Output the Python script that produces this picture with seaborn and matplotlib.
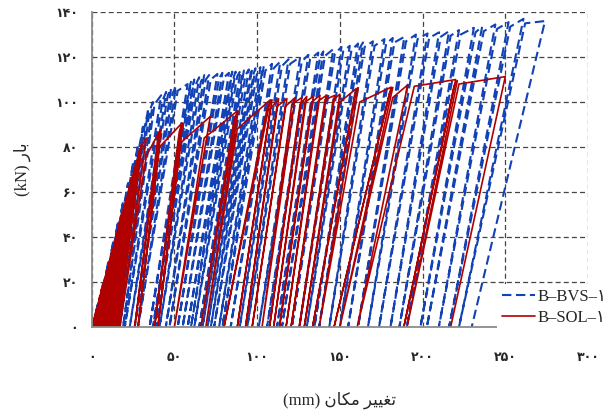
import matplotlib
matplotlib.use("Agg")
import matplotlib.pyplot as plt
import seaborn as sns
import pandas as pd

# B-BVS-1 cycles: reload point where the curve meets the envelope, peak, residual after unloading
bvs_knee_disp = [2, 5, 8, 11, 14, 17, 20, 23, 26, 29, 32, 35,
                 38, 43, 46, 49, 52, 59, 61, 63, 66, 69,
                 72, 77, 80, 84, 86, 88, 91, 93, 96, 98, 100,
                 103, 105, 110, 115, 120, 127, 132, 138, 141, 147, 152, 157, 162,
                 165, 171, 178, 183, 190, 197, 204, 211, 217, 223, 232, 237, 245, 253, 262]
bvs_knee_load = [5, 11, 20, 29, 38, 47, 56, 64, 73, 81, 89, 96,
                 99, 101, 103, 104, 105, 106, 107, 108, 109, 110,
                 110, 110.5, 111, 111, 111.5, 111.5, 112, 112, 112.5, 113, 113,
                 113.5, 114, 115, 116, 117, 118, 119, 120, 120.5, 121.5, 122.5, 123, 124,
                 124.5, 125, 126, 126.5, 127, 128, 128.5, 129, 129.5, 130, 131, 131.5, 132.5, 133.5, 135]
bvs_peak_disp = [4, 7, 10, 13, 16, 19, 22, 25, 28, 31, 34, 37,
                 42, 45, 48, 51, 58, 60, 62, 65, 68, 71,
                 76, 79, 83, 85, 87, 90, 92, 95, 97, 99, 102,
                 104, 109, 114, 119, 126, 131, 137, 140, 146, 151, 156, 161, 164,
                 170, 177, 182, 189, 196, 203, 210, 216, 222, 231, 236, 244, 252, 261, 274]
bvs_peak_load = [11, 20, 29, 38, 47, 56, 64, 73, 81, 89, 96, 100,
                 103, 104.5, 106, 107, 108, 109, 110, 111, 112, 112,
                 112.5, 113, 113, 113.5, 113.5, 114, 114, 114.5, 115, 115, 115.5,
                 116, 117, 118, 119, 120, 121, 122, 122.5, 123.5, 124.5, 125, 126, 126.5,
                 127, 128, 128.5, 129, 130, 130.5, 131, 131.5, 132, 133, 133.5, 134.5, 135.5, 137, 136]
bvs_resid = [1, 2, 3, 4, 5, 7, 9, 11, 13, 15, 17, 19,
             20, 23, 26, 28, 35, 37, 38.7, 41, 44.8, 47,
             52, 55, 58, 60, 62, 65, 67, 70, 72, 74, 77,
             79, 84, 89.5, 94, 101, 106, 112, 115, 121, 125.5, 130, 134.6, 137.5,
             143.6, 150, 155, 161, 167, 173.7, 180.6, 186, 190.5, 198.7, 202.6, 209.8, 216, 222, 229.7]

# B-SOL-1 cycles
sol_knee_disp = [2, 3.5, 5.5, 6.5, 8.5, 9.5, 11.5, 12.5, 14.5, 15.5, 17.5, 18.5, 20.5, 21.5, 23.5,
                 24.5, 26.5, 27.5, 29.5, 30.5,
                 33, 40, 41, 53, 54, 68, 86, 88, 106, 108, 112, 117, 121, 126,
                 129, 133, 137, 141, 146, 150, 159, 162, 180, 182, 195, 219, 222]
sol_knee_load = [5, 8, 14, 17, 22, 25, 30, 33, 38, 42, 47, 50, 55, 58, 63,
                 66, 71, 74, 79, 81,
                 76, 84, 80, 87, 82, 84, 92, 88, 97, 97, 98, 98, 99, 99,
                 100, 100, 100.5, 101, 101, 100, 103, 100, 104, 102, 107, 107, 108]
sol_peak_disp = [3, 5, 6, 8, 9, 11, 12, 14, 15, 17, 18, 20, 21, 23, 24, 26, 27, 29, 30, 33,
                 41.5, 42, 54.5, 55, 71.7, 88, 88.5, 108, 109, 113, 118, 123, 127, 130,
                 134, 138, 142, 147, 150, 160, 161, 181, 182, 191, 220, 221, 250]
sol_peak_load = [8, 14, 17, 22, 25, 30, 33, 38, 42, 47, 50, 55, 58, 63, 66, 71, 74, 79, 81, 84,
                 87.7, 88, 90.6, 90.5, 93.6, 96, 96, 101, 101, 101.5, 101.5, 102, 102, 102.5,
                 102.5, 103, 103, 103, 103.5, 106, 106, 106.6, 106.5, 107.6, 110, 109.5, 111.3]
sol_resid = [0.5, 1, 1.5, 2, 3, 3.5, 4.5, 5, 6, 7, 8, 9, 10, 11, 12, 13, 14, 15, 16, 17,
             26, 28, 38, 40, 50, 66, 69, 80, 88, 93, 97, 103, 107.5, 110,
             113.5, 117.5, 120.5, 125.5, 128.5, 133.5, 137.5, 146.5, 150, 160.5, 188.7, 190.6, 217]

x_ticks = [0, 50, 100, 150, 200, 250, 300]
x_tick_labels = ['۰', '۵۰', '۱۰۰', '۱۵۰', '۲۰۰', '۲۵۰', '۳۰۰']
y_ticks = [0, 20, 40, 60, 80, 100, 120, 140]
y_tick_labels = ['۰', '۲۰', '۴۰', '۶۰', '۸۰', '۱۰۰', '۱۲۰', '۱۴۰']

# Persian labels written in visual order with presentation forms (matplotlib has no Arabic shaping)
x_label = '(mm) \uFEE5\uFE8E\uFB91\uFEE3 \uFEAE\uFEF4\uFEF4\uFED0\uFE97'   # تغییر مکان (mm)
y_label = '(kN) \uFEAD\uFE8E\uFE91'                                        # بار (kN)
labels = ['B–BVS–۱', 'B–SOL–۱']


def loop_path(knee_d, knee_l, peak_d, peak_l, resid):
    # reload to the envelope, go on to the peak, unload to the residual
    xs, ys = [0.0], [0.0]
    for kd, kl, d, l, r in zip(knee_d, knee_l, peak_d, peak_l, resid):
        xs += [kd, d, r]
        ys += [kl, l, 0.0]
    return pd.DataFrame({'disp': xs, 'load': ys})


bvs = loop_path(bvs_knee_disp, bvs_knee_load, bvs_peak_disp, bvs_peak_load, bvs_resid)
sol = loop_path(sol_knee_disp, sol_knee_load, sol_peak_disp, sol_peak_load, sol_resid)

sns.set_style("white")
serif = ['Liberation Serif', 'DejaVu Sans']

fig = plt.figure(figsize=(6.12, 4.16), dpi=100)
ax = fig.add_axes([0.1498, 0.214, 0.811, 0.757])

sns.lineplot(data=bvs, x='disp', y='load', sort=False, estimator=None, ax=ax,
             color='#1242b5', lw=1.5, linestyle=(0, (4.5, 2.2)), label=labels[0])
sns.lineplot(data=sol, x='disp', y='load', sort=False, estimator=None, ax=ax,
             color='#b00000', lw=1.2, label=labels[1])

ax.set_xlim(0, 300)
ax.set_ylim(0, 140)
ax.set_xticks(x_ticks)
ax.set_xticklabels(x_tick_labels, family='DejaVu Sans', fontweight='bold', fontsize=9)
ax.set_yticks(y_ticks)
ax.set_yticklabels(y_tick_labels, family='DejaVu Sans', fontweight='bold', fontsize=9)

ax.set_axisbelow(True)
ax.grid(True, color='#444444', linestyle=(0, (4, 2.5)), lw=0.9)
for s in ['top', 'right']:
    ax.spines[s].set_visible(False)
for s in ['left', 'bottom']:
    ax.spines[s].set_color('#8c8c8c')
    ax.spines[s].set_linewidth(1.3)
ax.tick_params(axis='x', direction='out', length=5, width=1, color='#8c8c8c', pad=12)
ax.tick_params(axis='y', direction='out', length=4, width=1, color='#8c8c8c', pad=6)

ax.set_xlabel(x_label, family=serif, fontsize=12, labelpad=20)
ax.set_ylabel(y_label, family=serif, fontsize=12, labelpad=17)

leg = ax.legend(loc='lower left', bbox_to_anchor=(0.8, -0.04), frameon=True,
                facecolor='white', edgecolor='none', framealpha=1, fancybox=False,
                borderpad=0.3, handlelength=2.0, handletextpad=0.15, labelspacing=0.3,
                prop={'family': serif, 'size': 12})

fig.savefig('out.png', dpi=100)
